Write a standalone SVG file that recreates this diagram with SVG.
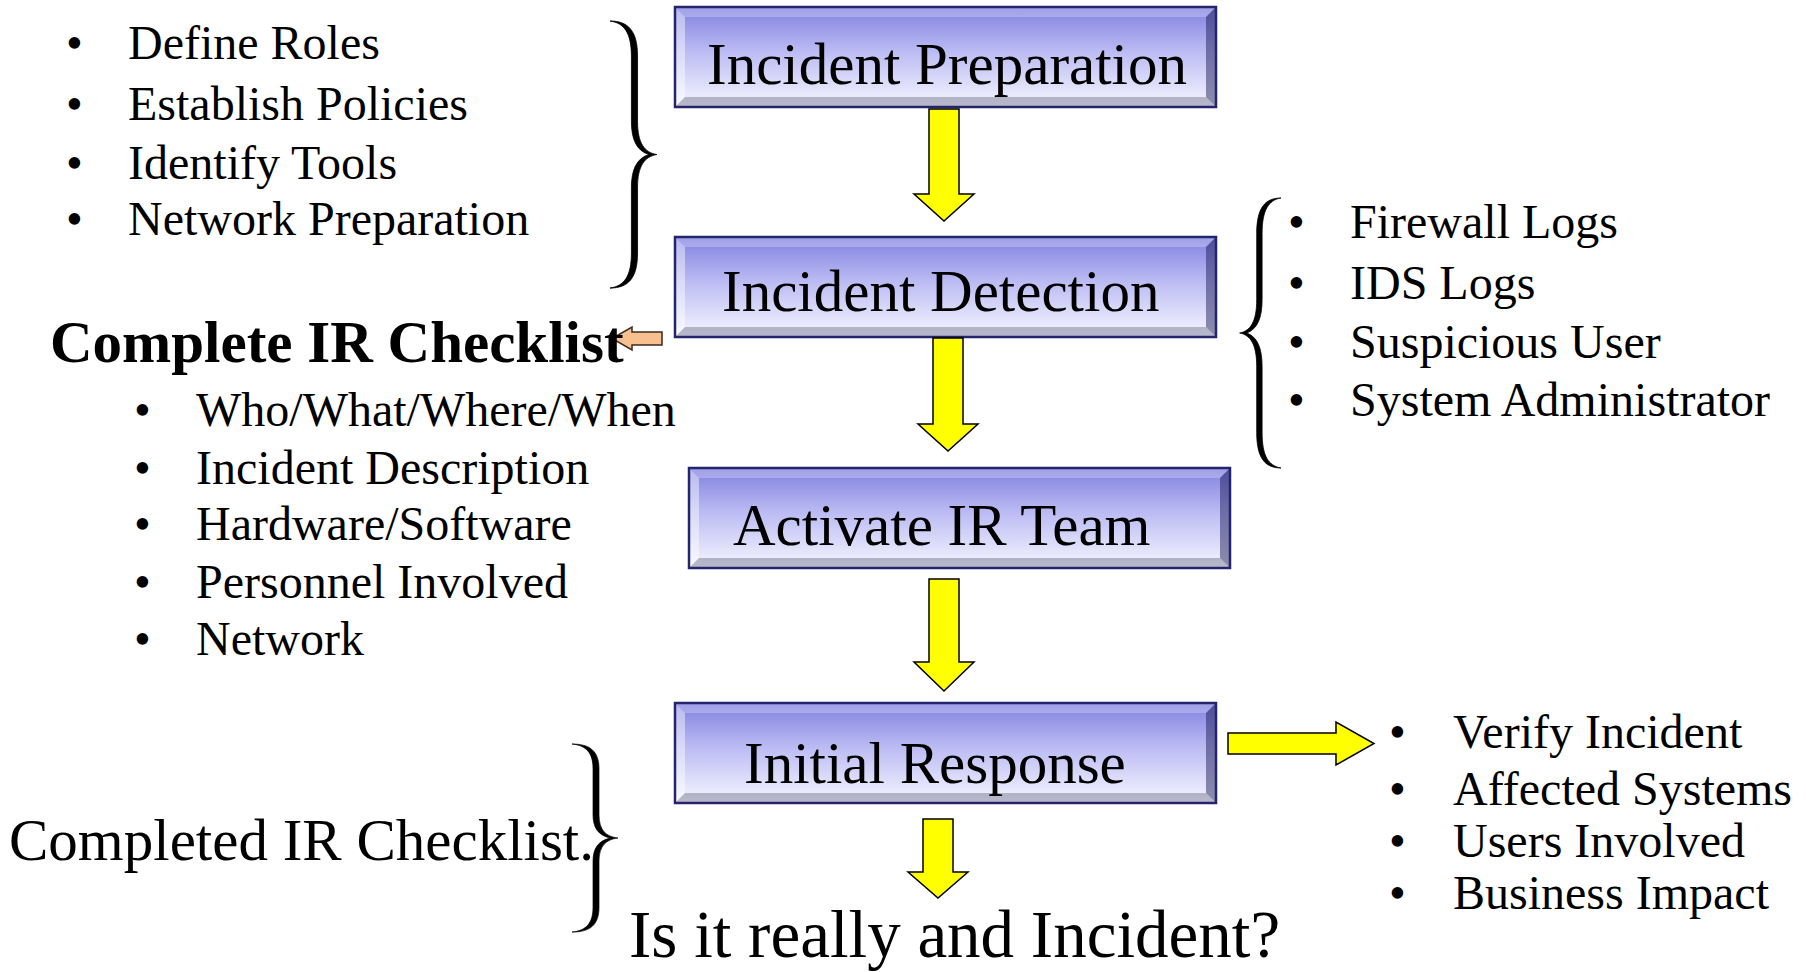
<svg xmlns="http://www.w3.org/2000/svg" xmlns:xlink="http://www.w3.org/1999/xlink" width="1806" height="972" viewBox="0 0 1806 972">
<style>
  text { font-family: "Liberation Serif", "Times New Roman", serif; fill: #000; }
  .box { font-size: 59px; }
  .list { font-size: 48px; }
  .head { font-size: 59px; font-weight: bold; }
  .big { font-size: 59px; }
  .q { font-size: 67px; }
  .yarrow { fill: #ffff00; stroke: #000; stroke-width: 1.5; stroke-linejoin: miter; }
  .oarrow { fill: #f9c08f; stroke: #3a2a20; stroke-width: 1.5; }
  .brace { fill: #000; stroke: #000; stroke-width: 0.8; }
</style>
<defs>
  <linearGradient id="boxgrad" x1="0" y1="0" x2="0" y2="1">
    <stop offset="0" stop-color="#8080e0"/>
    <stop offset="0.45" stop-color="#bcbcf4"/>
    <stop offset="1" stop-color="#f6f6ff"/>
  </linearGradient>
  <g id="boxshape">
    <rect x="0" y="0" width="541" height="100" fill="url(#boxgrad)"/>
    <polygon points="0,0 541,0 531,10 10,10" fill="#ffffff" fill-opacity="0.25"/>
    <polygon points="0,0 10,10 10,90 0,100" fill="#ffffff" fill-opacity="0.45"/>
    <polygon points="541,0 541,100 531,90 531,10" fill="#10104a" fill-opacity="0.45"/>
    <polygon points="0,100 541,100 531,90 10,90" fill="#303050" fill-opacity="0.3"/>
    <rect x="0" y="0" width="541" height="100" fill="none" stroke="#24246e" stroke-width="2.5"/>
  </g>
  <path id="bracer" d="M0,0 C18,0 27,10 27,35 L27,100 C27,122 34,131 46,133 C34,135 27,144 27,166 L27,231 C27,256 18,266 0,266 C14,264 21,254 21,231 L21,166 C21,148 26,137 38,133 C26,129 21,118 21,100 L21,35 C21,12 14,2 0,0 Z"/>
</defs>

<g id="node-incident-preparation">
  <use xlink:href="#boxshape" x="675" y="7"/>
  <text class="box" x="707" y="84">Incident Preparation</text>
</g>
<g id="node-incident-detection">
  <use xlink:href="#boxshape" x="675" y="237"/>
  <text class="box" x="722" y="311">Incident Detection</text>
</g>
<g id="node-activate-ir-team">
  <use xlink:href="#boxshape" x="689" y="468"/>
  <text class="box" x="733" y="545">Activate IR Team</text>
</g>
<g id="node-initial-response">
  <use xlink:href="#boxshape" x="675" y="703"/>
  <text class="box" x="744" y="783">Initial Response</text>
</g>

<g id="connectors">
  <polygon class="yarrow" points="929,109 959,109 959,194 974,194 944,221 914,194 929,194"/>
  <polygon class="yarrow" points="933,338 963,338 963,424 978,424 948,451 918,424 933,424"/>
  <polygon class="yarrow" points="929,579 959,579 959,662 974,662 944,691 914,662 929,662"/>
  <polygon class="yarrow" points="923,819 953,819 953,872 968,872 938,898 908,872 923,872"/>
  <polygon class="yarrow" points="1228,733 1336,733 1336,722 1374,743.5 1336,765 1336,754 1228,754"/>
  <polygon class="oarrow" points="662,332 632,332 632,327 612,338.5 632,350 632,345 662,345"/>
</g>

<g id="prep-list">
  <use xlink:href="#bracer" class="brace" transform="translate(610,21) scale(1.02,1.004)"/>
  <text class="list" x="66" y="59">•</text><text class="list" x="128" y="59">Define Roles</text>
  <text class="list" x="66" y="120">•</text><text class="list" x="128" y="120">Establish Policies</text>
  <text class="list" x="66" y="179">•</text><text class="list" x="128" y="179">Identify Tools</text>
  <text class="list" x="66" y="235">•</text><text class="list" x="128" y="235">Network Preparation</text>
</g>

<g id="checklist">
  <text class="head" x="50" y="362">Complete IR Checklist</text>
  <text class="list" x="134" y="426">•</text><text class="list" x="196" y="426">Who/What/Where/When</text>
  <text class="list" x="134" y="484">•</text><text class="list" x="196" y="484">Incident Description</text>
  <text class="list" x="134" y="540">•</text><text class="list" x="196" y="540">Hardware/Software</text>
  <text class="list" x="134" y="598">•</text><text class="list" x="196" y="598">Personnel Involved</text>
  <text class="list" x="134" y="655">•</text><text class="list" x="196" y="655">Network</text>
</g>

<g id="detection-list">
  <use xlink:href="#bracer" class="brace" transform="translate(1281,198) scale(-0.9,1.015)"/>
  <text class="list" x="1288" y="238">•</text><text class="list" x="1350" y="238">Firewall Logs</text>
  <text class="list" x="1288" y="299">•</text><text class="list" x="1350" y="299">IDS Logs</text>
  <text class="list" x="1288" y="358">•</text><text class="list" x="1350" y="358">Suspicious User</text>
  <text class="list" x="1288" y="416">•</text><text class="list" x="1350" y="416">System Administrator</text>
</g>

<g id="response-list">
  <text class="list" x="1389" y="748">•</text><text class="list" x="1453" y="748">Verify Incident</text>
  <text class="list" x="1389" y="805">•</text><text class="list" x="1453" y="805">Affected Systems</text>
  <text class="list" x="1389" y="857">•</text><text class="list" x="1453" y="857">Users Involved</text>
  <text class="list" x="1389" y="909">•</text><text class="list" x="1453" y="909">Business Impact</text>
</g>

<g id="completed">
  <text class="big" x="9" y="860">Completed IR Checklist.</text>
  <use xlink:href="#bracer" class="brace" transform="translate(572,744) scale(1,0.707)"/>
</g>

<g id="question">
  <text class="q" x="629" y="957">Is it really and Incident?</text>
</g>
</svg>
